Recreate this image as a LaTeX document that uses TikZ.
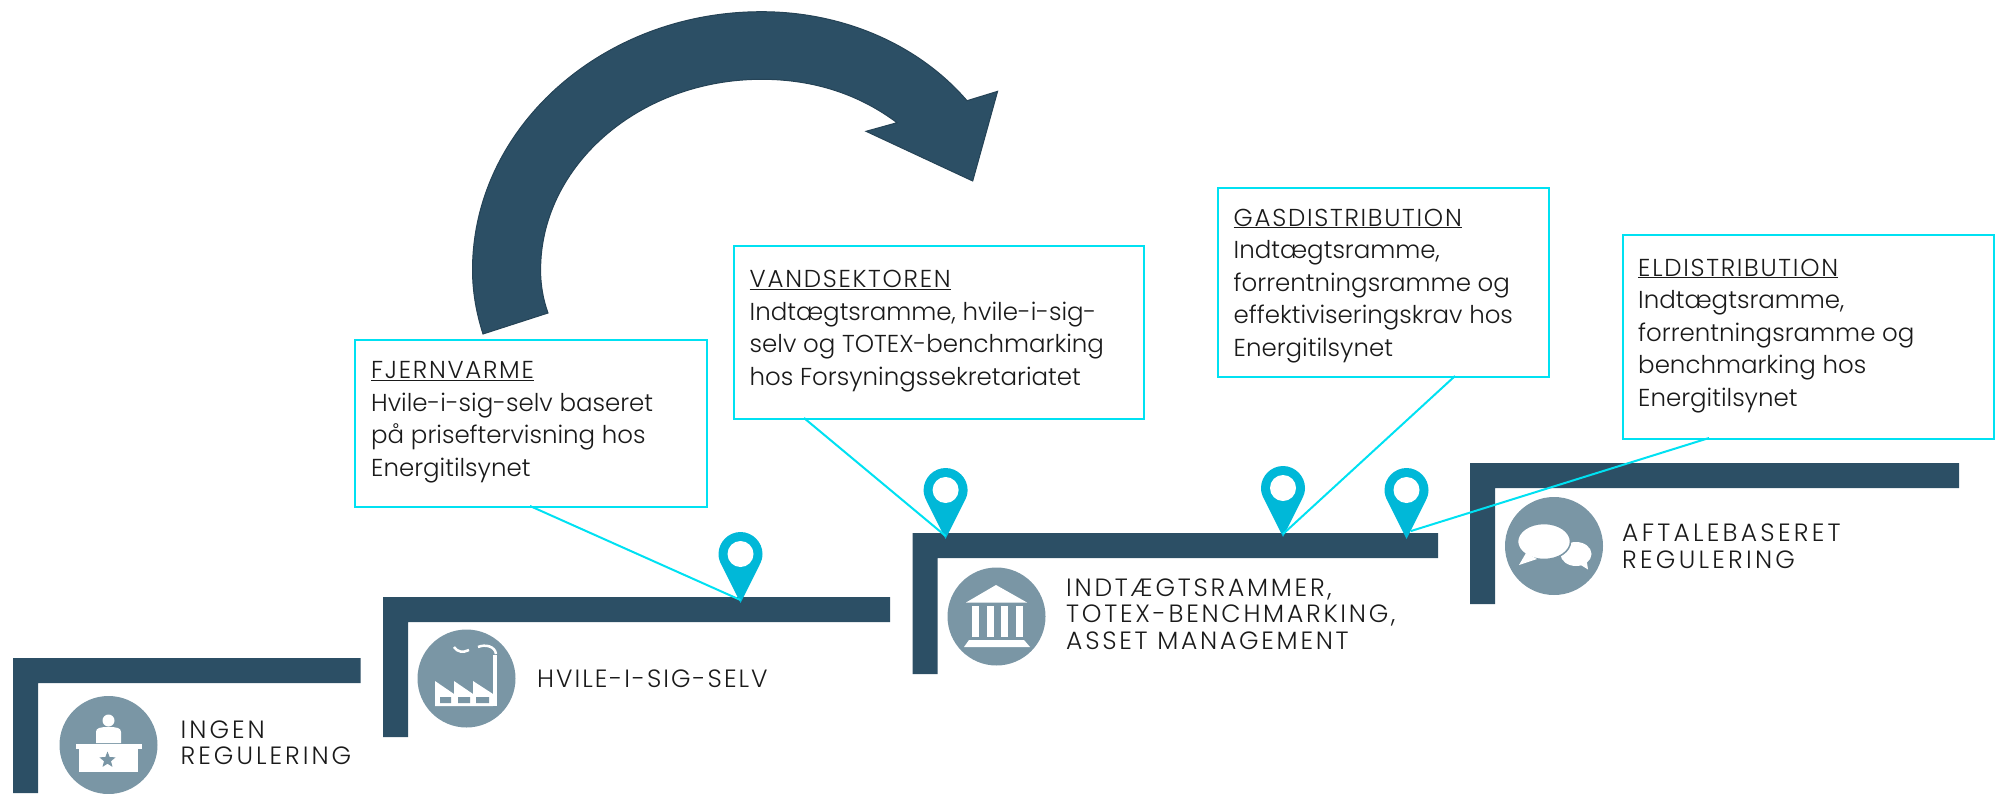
\documentclass[tikz,border=0pt]{standalone}
\usepackage{fontspec}
\setmainfont{Poppins Light}
\usetikzlibrary{shapes.geometric}
\definecolor{stepblue}{HTML}{2C4F65}
\definecolor{iconblue}{HTML}{7A96A5}
\definecolor{pincol}{HTML}{00B8D8}
\definecolor{linecol}{HTML}{00E1F2}
\definecolor{txt}{HTML}{1A1A1A}
\newcommand{\ttl}[1]{\underline{\addfontfeature{LetterSpace=7}#1}}
\tikzset{
  stair/.style={fill=stepblue,draw=none},
  iconcirc/.style={circle,fill=iconblue,minimum size=98pt,inner sep=0pt},
  ico/.style={fill=white,draw=none},
  lead/.style={draw=linecol,line width=2pt},
  infobox/.style={draw=linecol,line width=2.4pt,fill=white,anchor=north west,inner sep=0pt},
  boxtext/.style={anchor=west,align=left,inner sep=0pt,text=txt,font=\fontsize{24.5}{32.5}\selectfont},
  lvl/.style={anchor=west,align=left,text=txt,inner sep=0pt,font=\addfontfeature{LetterSpace=#1}\fontsize{25}{26.5}\selectfont},
  pin/.pic={
    \fill[pincol] (0,0) -- (-19,-38) .. controls (-21,-42) and (-22,-45) .. (-22,-49)
      .. controls (-22,-61) and (-12,-71) .. (0,-71) .. controls (12,-71) and (22,-61) .. (22,-49)
      .. controls (22,-45) and (21,-42) .. (19,-38) -- cycle;
    \fill[white] (0,-49) circle[radius=13];
  }
}
\newcommand{\stairshape}[4]{\fill[stair] (#1,#3) -- (#2,#3) -- (#2,#3+25) -- (#1+25,#3+25) -- (#1+25,#4) -- (#1,#4) -- cycle;}
\begin{document}
\begin{tikzpicture}[x=1pt,y=-1pt]
\useasboundingbox (0,0) rectangle (2002,793);
% arrow
\filldraw[fill=stepblue,draw=stepblue!85!black,line width=1pt]
  (483,334) .. controls (476,312) and (472.5,291) .. (472.5,270)
  .. controls (472.5,128) and (602,11.7) .. (761.5,11.7)
  .. controls (845,11.7) and (920,46) .. (967,100.7)
  -- (997.6,91.3) -- (972.7,181) -- (866,131.3) -- (897,122.7)
  .. controls (860,95) and (815,79.3) .. (761.5,79.3)
  .. controls (640,79.3) and (540.6,165) .. (540.6,270)
  .. controls (540.6,285) and (543,299) .. (548,313) -- cycle;
% stairs
\stairshape{13.2}{360.5}{658}{793}
\stairshape{383}{890}{597}{737}
\stairshape{912.6}{1438}{533}{674}
\stairshape{1470}{1959}{463}{604}
% icon circles
\node[iconcirc] (c1) at (108.5,745) {};
\node[iconcirc] (c2) at (466.5,678.5) {};
\node[iconcirc] (c3) at (996.5,616.5) {};
\node[iconcirc] (c4) at (1554,546) {};
% desk icon
\fill[ico] (108.5,720.5) ellipse[x radius=6,y radius=6];
\fill[ico] (96,743) -- (96,732) .. controls (96,728) and (100,727) .. (108.5,727) .. controls (117,727) and (121,728) .. (121,732) -- (121,743) -- cycle;
\fill[ico] (76,744) rectangle (142,749);
\fill[ico] (79,749) rectangle (138,772);
\node[star,star points=5,star point ratio=2.3,fill=iconblue,minimum size=17pt,inner sep=0pt] (deskstar) at (107.5,760) {};
% factory icon
\fill[ico] (492.5,655) rectangle (497,706);
\fill[ico] (435,706) -- (435,681) -- (454,694) -- (454,681) -- (473,694) -- (473,681) -- (493,694) -- (493,706) -- cycle;
\fill[iconblue] (440,697) rectangle (451,703) (458,697) rectangle (470,703) (476,697) rectangle (489,703);
\draw[white,line width=2.5pt] (454,647) .. controls (457,652) and (463,653) .. (469,650);
\draw[white,line width=2.5pt] (478,647) .. controls (485,644) and (495,646) .. (496,654);
% bank icon
\fill[ico] (996,585) -- (1027,602.5) -- (966,602.5) -- cycle;
\foreach \cx in {972,986.5,1001,1015.5} \fill[ico] (\cx,605.5) rectangle (\cx+7,637);
\fill[ico] (969,640) -- (1024,640) -- (1030,647) -- (964,647) -- cycle;
% bubbles icon
\fill[ico] (1576,554) ellipse[x radius=15.5,y radius=12];
\fill[ico] (1576,562) -- (1588,569.5) -- (1586,556) -- cycle;
\filldraw[fill=white,draw=iconblue,line width=1.5pt] (1544,541.5) ellipse[x radius=26.5,y radius=18];
\fill[ico] (1519,565) -- (1526,553) -- (1537,559) -- cycle;
% pins
\pic at (740.5,603) {pin};
\pic at (945.6,539) {pin};
\pic at (1283,537) {pin};
\pic at (1406.5,539) {pin};
\coordinate (tipD) at (740.5,600);
\coordinate (tipA) at (945.6,536);
\coordinate (tipB) at (1283,534);
\coordinate (tipC) at (1411,531);
% boxes
\node[infobox,minimum width=352pt,minimum height=167pt] (fj) at (354,339) {};
\node[infobox,minimum width=410pt,minimum height=173pt] (va) at (733,245) {};
\node[infobox,minimum width=331pt,minimum height=189pt] (ga) at (1217,187) {};
\node[infobox,minimum width=371pt,minimum height=204pt] (el) at (1622,234) {};
\node[boxtext] (fjt) at (371,422.2) {\ttl{FJERNVARME}\\Hvile-i-sig-selv baseret\\på priseftervisning hos\\Energitilsynet};
\node[boxtext] (vat) at (749.5,331.2) {\ttl{VANDSEKTOREN}\\Indtægtsramme, hvile-i-sig-\\selv og TOTEX-benchmarking\\hos Forsyningssekretariatet};
\node[boxtext] (gat) at (1233.5,285.7) {\ttl{GASDISTRIBUTION}\\Indtægtsramme,\\forrentningsramme og\\effektiviseringskrav hos\\Energitilsynet};
\node[boxtext] (elt) at (1638,335.7) {\ttl{ELDISTRIBUTION}\\Indtægtsramme,\\forrentningsramme og\\benchmarking hos\\Energitilsynet};
% connectors
\coordinate (fjc) at (530,506);
\coordinate (vac) at (804,418);
\coordinate (gac) at (1455,376);
\coordinate (elc) at (1709,438);
\draw[lead] (fjc) -- (tipD);
\draw[lead] (vac) -- (tipA);
\draw[lead] (gac) -- (tipB);
\draw[lead] (elc) -- (tipC);
% level labels
\node[lvl=12] (l1) at (180.5,742.5) {INGEN\\REGULERING};
\node[lvl=8] (l2) at (537,678.7) {HVILE-I-SIG-SELV};
\node[lvl=11] (l3) at (1066,614) {INDTÆGTSRAMMER,\\TOTEX-BENCHMARKING,\\ASSET MANAGEMENT};
\node[lvl=13] (l4) at (1622,546) {AFTALEBASERET\\REGULERING};
\end{tikzpicture}
\end{document}
